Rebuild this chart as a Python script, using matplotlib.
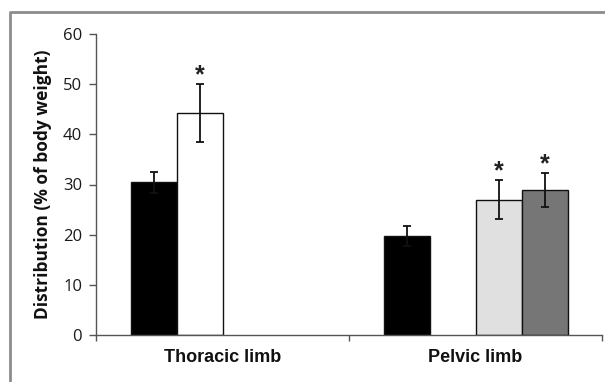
import matplotlib
matplotlib.use("Agg")
import matplotlib.pyplot as plt
import numpy as np
from matplotlib.lines import Line2D

# ── Data ─────────────────────────────────────────────────────
categories = ["Thoracic limb", "Pelvic limb"]
series_colors = ["#000000", "#ffffff", "#e0e0e0", "#767676"]

# one list per series (thoracic, pelvic); nan = not measured
means = [
    [30.4, 19.7],
    [44.2, np.nan],
    [np.nan, 27.0],
    [np.nan, 28.9],
]
errors = [
    [2.1, 2.0],
    [5.8, np.nan],
    [np.nan, 3.9],
    [np.nan, 3.3],
]
significant = [
    [False, False],
    [True, False],
    [False, True],
    [False, True],
]

# ── Figure ───────────────────────────────────────────────────
fig = plt.figure(figsize=(6.05, 3.82), dpi=100)
ax = fig.add_axes([96 / 605, 47 / 382, 506 / 605, 301 / 382])

x = np.arange(len(categories))
width = 1 / 5.5
n = len(means)

for i in range(n):
    pos = x + (i - (n - 1) / 2) * width
    vals = np.array(means[i], dtype=float)
    errs = np.array(errors[i], dtype=float)
    ax.bar(pos, vals, width, color=series_colors[i], edgecolor="#111111",
           linewidth=1.0, zorder=2)
    ax.errorbar(pos, vals, yerr=errs, fmt="none", ecolor="#111111",
                elinewidth=1.3, capsize=3, capthick=1.3, zorder=3)
    for p, v, e, s in zip(pos, vals, errs, significant[i]):
        if s:
            ax.text(p, v + e - 0.6, "*", ha="center", va="bottom",
                    fontsize=18, fontweight="bold", color="#222222",
                    family="Liberation Sans")

ax.set_xlim(-0.5, 1.5)
ax.set_ylim(0, 60)
ax.set_yticks(np.arange(0, 61, 10))
ax.set_xticks([-0.5, 0.5, 1.5])
ax.set_xticklabels([])
ax.tick_params(axis="x", direction="out", length=4, width=1, color="#555555")
ax.tick_params(axis="y", direction="out", length=5, width=1, color="#555555",
               pad=5, labelsize=12)
for lab in ax.get_yticklabels():
    lab.set_fontfamily("Open Sans")
    lab.set_color("#1a1a1a")

for c, name in zip(x, categories):
    ax.text(c, -2.7, name, ha="center", va="top", fontsize=13,
            fontweight="bold", family="Liberation Sans", color="#111111",
            transform=ax.transData)

ax.set_ylabel("Distribution (% of body weight)", fontsize=12.5,
              fontweight="bold", family="Open Sans", color="#111111",
              labelpad=8)

for side in ["top", "right"]:
    ax.spines[side].set_visible(False)
for side in ["left", "bottom"]:
    ax.spines[side].set_color("#555555")
    ax.spines[side].set_linewidth(1)

# gray frame around the chart area (left and top edges visible)
fx = 10 / 605
fy = 1 - 12 / 382
fig.add_artist(Line2D([fx, fx, 1.0], [0.0, fy, fy], transform=fig.transFigure,
                      color="#8c8c8c", linewidth=2))

fig.savefig("out.png", dpi=100)
